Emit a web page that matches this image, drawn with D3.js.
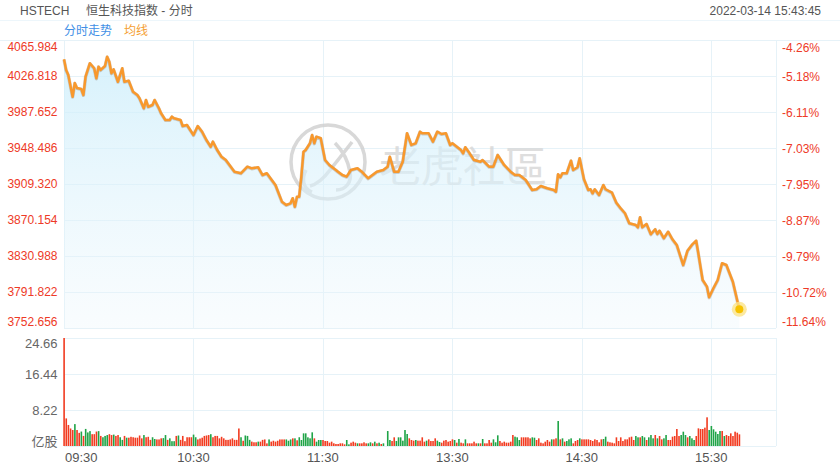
<!DOCTYPE html>
<html><head><meta charset="utf-8">
<script src="https://cdn.jsdelivr.net/npm/d3@7/dist/d3.min.js"></script>
<style>
html,body{margin:0;padding:0;background:#fff;}
svg{display:block;font-family:Arial,"Liberation Sans","Noto Sans CJK SC",sans-serif;}
</style></head>
<body>
<svg id="chart" width="840" height="470"></svg>
<script>
// ---------------- DATA ----------------
const symbol = "HSTECH";
const titleText = "恒生科技指数 - 分时";
const stampText = "2022-03-14 15:43:45";
const legendNames = ["分时走势", "均线"];

// minutes since 09:30 (trading minutes, lunch removed) and index level
const priceMin = [0,1,2,4,5,6,8,9,10,12,14,15,16,17,19,20,21,22,23,25,27,28,30,32,34,35,37,38,39,41,42,44,45,47,49,50,51,54,55,57,60,62,64,66,68,69,71,73,75,79,82,85,87,90,92,94,98,101,103,105,106,107,108,109,
110,111,112,114,115,116,117,119,121,123,126,127,129,131,133,136,138,141,143,145,148,150,151,153,155,157,159,161,163,165,166,169,171,173,175,177,179,180,184,185,186,188,190,193,194,197,199,201,204,207,209,211,214,217,219,221,224,227,228,
229,230,231,233,235,236,238,239,241,243,244,245,246,248,250,251,254,256,258,260,262,265,266,267,268,270,272,274,275,276,278,280,282,284,285,287,289,291,293,294,296,298,299,301,303,305,307,310,313];
const priceVal = [4045.0,4033.3,4027.9,4004.3,4019.2,4013.8,4012.7,4006.2,4026.1,4040.7,4035.2,4024.3,4037.0,4033.4,4037.7,4047.8,4042.4,4029.8,4034.1,4020.6,4035.2,4020.6,4021.7,4009.7,4006.2,4002.6,3991.7,4000.7,3993.4,3995.3,4000.7,3991.7,3986.3,3979.0,3979.0,3982.6,3980.8,3979.0,3972.4,3973.5,3962.6,3972.4,3966.2,3957.2,3949.9,3955.4,3946.3,3939.0,3935.4,3922.7,3921.0,3928.2,3926.4,3927.5,3919.1,3921.0,3908.2,3890.1,3886.5,3888.3,3893.8,3884.6,3895.5,3895.5,
3917.3,3944.5,3946.3,3953.6,3962.6,3953.6,3960.8,3959.1,3935.4,3930.0,3924.6,3922.7,3919.1,3917.3,3924.6,3926.4,3922.7,3915.5,3919.1,3922.7,3924.6,3928.2,3939.0,3922.7,3922.7,3933.6,3964.5,3951.8,3953.6,3966.2,3964.5,3964.5,3955.4,3966.2,3963.7,3964.5,3951.8,3953.6,3946.3,3942.7,3949.3,3942.7,3935.4,3933.6,3935.4,3928.2,3928.2,3940.9,3930.0,3922.7,3919.1,3919.1,3913.7,3902.8,3903.6,3907.2,3904.7,3902.8,3901.0,
3919.9,3916.6,3921.0,3921.0,3934.7,3924.6,3927.5,3937.3,3914.5,3902.8,3903.6,3899.2,3903.6,3897.4,3908.2,3903.6,3899.9,3889.0,3882.9,3877.5,3866.6,3864.7,3862.2,3873.1,3862.2,3865.8,3854.6,3860.1,3854.9,3858.5,3850.3,3857.4,3849.2,3843.0,3835.7,3821.2,3836.8,3843.0,3847.6,3833.9,3804.9,3797.6,3786.1,3795.9,3804.9,3823.1,3821.2,3803.0,3773.0];

// per-minute volume (亿股), one value per trading minute from 09:30
const volume = [
24.66,6.3,4.8,4.0,3.65,5.0,3.65,3.0,3.3,2.3, 3.9,3.1,3.4,2.7,2.7,3.3,3.4,2.3,2.0,2.3,
2.5,2.7,2.5,2.6,2.3,2.5,2.0,1.4,2.3,1.9, 1.9,2.1,2.0,1.9,1.9,2.4,1.75,2.5,2.0,2.1,
1.4,2.0,1.6,1.5,1.5,1.75,1.8,2.5,1.4,1.75, 1.1,1.1,2.3,2.4,1.4,2.3,1.1,2.0,2.0,2.0,
2.6,2.0,1.5,1.7,1.9,2.3,2.4,2.5,2.7,2.0, 2.3,2.3,1.75,2.1,1.75,1.4,1.4,1.5,1.75,1.4,
1.4,4.0,2.0,1.2,2.4,2.3,1.4,1.0,0.85,0.85, 1.0,1.0,1.4,1.5,0.6,1.5,1.0,1.2,1.0,1.2,
1.5,1.5,1.5,1.5,1.2,1.5,1.75,1.75,1.3,2.0,
1.37,2.89,2.89,1.98,1.75,3.12,1.75,0.99,1.37,1.37, 1.37,1.14,1.14,0.76,0.99,0.61,0.46,0.46,0.61,0.61,
0.38,1.37,0.38,0.76,0.99,0.76,0.61,0.61,0.61,0.84, 0.61,0.61,0.84,0.61,0.99,0.61,0.76,0.46,0.61,0,
3.42,1.37,1.14,1.98,1.14,1.98,1.98,1.22,3.65,2.74, 1.75,1.37,1.22,1.37,1.22,1.22,1.98,0.99,1.22,1.52,
1.14,1.14,1.75,1.22,0.91,0.76,1.22,1.37,0.99,1.14, 1.52,1.37,0.76,1.60,0.76,0.61,1.52,0.61,0.61,
0.61,0.99,0.61,0.61,0.61,1.60,0.61,0.61,1.37,0.76, 1.52,0.84,2.44,1.14,0.76,0.99,0.76,0.76,0.99,2.51,
2.13,1.98,1.37,1.98,1.98,1.98,1.98,1.75,1.98,1.90, 1.37,1.75,0.76,0.61,0.99,1.37,0.99,1.52,1.52,1.75,
5.71,1.52,1.75,0.99,1.14,1.52,1.75,0.61,1.14,1.37, 1.75,1.52,1.52,1.52,1.52,
1.37,1.14,1.52,1.37,0.84,1.52,1.60,2.13,0.99,0.84, 0.76,0.61,1.98,1.14,1.98,1.14,1.52,1.52,1.98,2.13,
1.37,2.28,1.98,1.98,2.28,1.98,1.37,1.98,2.51,1.75, 2.51,1.75,2.28,1.52,1.75,2.51,1.37,1.37,2.13,2.28,
3.88,2.28,2.51,3.27,2.51,1.98,2.28,1.75,1.37,2.28, 4.03,3.88,3.88,4.19,6.55,3.65,4.57,3.81,3.27,2.74,
3.42,3.42,2.28,2.51,2.28,2.89,2.28,3.27,3.04,2.66];
// r = up minute (red), g = down minute (green)
const volDir = (
"rrrrrgrrgr"+"gggrrrgrgg"+"grrgrrggrg"+"rrrrrrrgrr"+"rggrrrggrg"+"ggrgrrrrrr"+"ggrrrrrrgr"+"rrrrrrrrrr"+"rrgrgggrrr"+"grrrrgrrrr"+"rrrgggrgrg"+
"ggggggrggg"+"rrrrrrrrrr"+"rggrrrgrrr"+"rggrgrgrgr"+
"ggrrgggggg"+"rrrgrrrrgr"+"rrrggrrrrr"+"rgrgrrgrr"+"rrrgrgrrrr"+"gggrrrrrrr"+"gggrrrrrgg"+"rrrrrrrgrr"+"grgrgggrrr"+"grrrr"+
"rrrrrrggrr"+"rrrrrrrrrr"+"rggrggrggg"+"rgrrggrrrr"+"rrgggrgggr"+"rrrrrggggg"+"grgrrrrrrr").split("");

const leftTicks = [4065.984,4026.818,3987.652,3948.486,3909.320,3870.154,3830.988,3791.822,3752.656];
const rightTicks = ["-4.26%","-5.18%","-6.11%","-7.03%","-7.95%","-8.87%","-9.79%","-10.72%","-11.64%"];
const volTicks = [24.66,16.44,8.22];
const volUnit = "亿股";
const timeTickMin = [0,60,120,180,240,300];
const timeLabels = ["09:30","10:30","11:30","13:30","14:30","15:30"];
const totalMinutes = 330;

// ---------------- LAYOUT ----------------
const L = 64, R = 776, pTop = 40, pBot = 328, vTop = 338, vBot = 446;
const svg = d3.select("#chart");
const gridCol = "#e6f2f8", redTxt = "#ee3a27", grayTxt = "#555";

const x = d3.scaleLinear().domain([0,totalMinutes]).range([L,R]);
const y = d3.scaleLinear().domain([leftTicks[leftTicks.length-1], leftTicks[0]]).range([pBot,pTop]);
const yv = d3.scaleLinear().domain([0, volTicks[0]]).range([vBot,vTop]);

// header
svg.append("text").attr("x",20).attr("y",14.5).attr("font-size",12).attr("fill",grayTxt).text(symbol);
svg.append("text").attr("x",86).attr("y",14.5).attr("font-size",12).attr("fill",grayTxt).text(titleText);
svg.append("text").attr("x",821).attr("y",14.5).attr("font-size",12).attr("fill",grayTxt).attr("text-anchor","end").text(stampText);
svg.append("line").attr("x1",0).attr("x2",840).attr("y1",20.5).attr("y2",20.5).attr("stroke","#edf6fb");
svg.append("text").attr("x",64).attr("y",35).attr("font-size",12).attr("fill","#3f8fe6").text(legendNames[0]);
svg.append("text").attr("x",124).attr("y",35).attr("font-size",12).attr("fill","#f5a032").text(legendNames[1]);

// grids
const gy = d3.range(9).map(i => pTop + i*(pBot-pTop)/8);
svg.append("line").attr("x1",0).attr("x2",840).attr("y1",40.5).attr("y2",40.5).attr("stroke",gridCol);
svg.selectAll(".hg").data(gy.slice(1)).enter().append("line")
  .attr("x1",L).attr("x2",R).attr("y1",d=>Math.round(d)+0.5).attr("y2",d=>Math.round(d)+0.5).attr("stroke",gridCol);
const vgy = [vTop,(vTop*2+vBot)/3,(vTop+vBot*2)/3,vBot];
svg.selectAll(".vg").data(vgy).enter().append("line")
  .attr("x1",L).attr("x2",R).attr("y1",d=>Math.round(d)+0.5).attr("y2",d=>Math.round(d)+0.5).attr("stroke",gridCol);
const vx = timeTickMin.map(m=>x(m)).concat([R]);
vx.forEach(px=>{
  const xx = Math.round(px)+0.5;
  svg.append("line").attr("x1",xx).attr("x2",xx).attr("y1",pTop).attr("y2",pBot).attr("stroke",gridCol);
  svg.append("line").attr("x1",xx).attr("x2",xx).attr("y1",vTop).attr("y2",vBot).attr("stroke",gridCol);
});

// watermark
const wm = svg.append("g").attr("opacity",0.8);
wm.append("circle").attr("cx",328).attr("cy",162).attr("r",37).attr("fill","none").attr("stroke","#cfcfcf").attr("stroke-width",3.5);
wm.append("path").attr("d","M352,142 C346,150 338,160 330,170 C324,178 318,184 310,186").attr("fill","none").attr("stroke","#cfcfcf").attr("stroke-width",3.5);
wm.append("path").attr("d","M335,143 C342,150 348,160 350,172 C352,182 346,190 336,190").attr("fill","none").attr("stroke","#cfcfcf").attr("stroke-width",3.5);
wm.append("path").attr("d","M306,170 C302,178 302,188 312,192").attr("fill","none").attr("stroke","#cfcfcf").attr("stroke-width",3.5);
wm.append("text").attr("x",379).attr("y",163).attr("dominant-baseline","central")
  .attr("font-family","'Noto Sans CJK TC','Noto Sans CJK SC',sans-serif").attr("font-weight",400)
  .attr("font-size",42).attr("fill","#d6d6d6").text("老虎社區");

// area + line
const pts = priceMin.map((m,i)=>[m, priceVal[i]]);
const defs = svg.append("defs");
const grad = defs.append("linearGradient").attr("id","fillg").attr("x1",0).attr("x2",0).attr("y1",0).attr("y2",1);
grad.append("stop").attr("offset","0%").attr("stop-color","#cdeefb").attr("stop-opacity",0.8);
grad.append("stop").attr("offset","100%").attr("stop-color","#eaf6fc").attr("stop-opacity",0.3);
const area = d3.area().x(d=>x(d[0])).y0(pBot).y1(d=>y(d[1]));
svg.append("path").datum(pts).attr("d",area).attr("fill","url(#fillg)");
const line = d3.line().x(d=>x(d[0])).y(d=>y(d[1]));
svg.append("path").datum(pts).attr("d",line).attr("fill","none").attr("stroke","#7d6a58").attr("stroke-opacity",0.3).attr("stroke-width",3.4).attr("stroke-linejoin","round").attr("transform","translate(0,0.4)");
svg.append("path").datum(pts).attr("d",line).attr("fill","none").attr("stroke","#f8982c").attr("stroke-width",2.5).attr("stroke-linejoin","round");

// last point dot
const last = pts[pts.length-1];
svg.append("circle").attr("cx",x(last[0])).attr("cy",y(last[1])).attr("r",7.5).attr("fill","#fbe48a").attr("opacity",0.8);
svg.append("circle").attr("cx",x(last[0])).attr("cy",y(last[1])).attr("r",4).attr("fill","#f6c200");

// volume bars
svg.selectAll(".vb").data(volume).enter().append("rect")
  .attr("x",(d,i)=>x(i)-0.7).attr("width",1.6)
  .attr("y",d=>yv(d)).attr("height",d=>vBot-yv(d))
  .attr("fill",(d,i)=>volDir[i]==="g" ? "#1fa447" : "#f23b20");

// left price labels
svg.selectAll(".lt").data(leftTicks).enter().append("text")
  .attr("x",57.5).attr("y",(d,i)=> i===0 ? y(d)+7 : (i===leftTicks.length-1 ? y(d)-6 : y(d)))
  .attr("dominant-baseline","central").attr("text-anchor","end").attr("font-size",12).attr("fill",redTxt)
  .text(d=>d.toFixed(3));
svg.selectAll(".rt").data(rightTicks).enter().append("text")
  .attr("x",782).attr("y",(d,i)=>{const v=y(leftTicks[i]); return i===0? v+7.5 : (i===rightTicks.length-1? v-6 : v+0.5);})
  .attr("dominant-baseline","central").attr("font-size",12).attr("fill",redTxt).text(d=>d);

// volume labels
svg.selectAll(".vt").data(volTicks).enter().append("text")
  .attr("x",57.5).attr("y",(d,i)=> i===0 ? yv(d)+5 : yv(d))
  .attr("dominant-baseline","central").attr("text-anchor","end").attr("font-size",13).attr("fill","#666").text(d=>d.toFixed(2));
svg.append("text").attr("x",57.5).attr("y",vBot-5).attr("dominant-baseline","central").attr("text-anchor","end")
  .attr("font-size",13).attr("fill","#666").text(volUnit);

// time labels
svg.selectAll(".xt").data(timeTickMin).enter().append("text")
  .attr("x",(d,i)=> i===0 ? x(d)+1 : x(d)).attr("y",457)
  .attr("dominant-baseline","central").attr("text-anchor",(d,i)=> i===0?"start":"middle")
  .attr("font-size",13).attr("fill",grayTxt).text((d,i)=>timeLabels[i]);
</script>
</body></html>
